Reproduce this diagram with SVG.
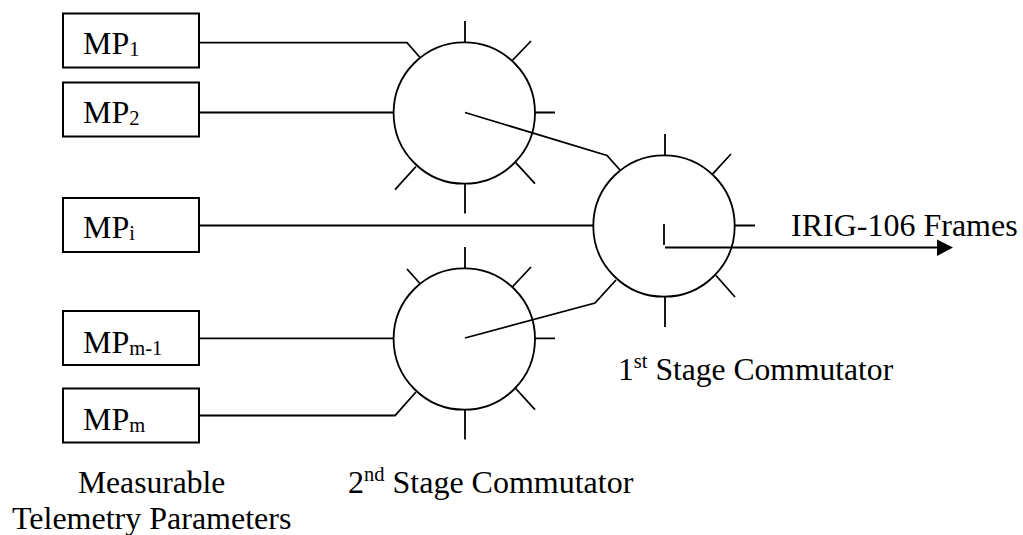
<svg xmlns="http://www.w3.org/2000/svg" width="1023" height="535" viewBox="0 0 1023 535">
<style>
text{font-family:"Liberation Serif","Times New Roman",serif;font-size:32px;fill:#000}
.s{font-size:20.5px}
.n{font-size:31.6px}
rect{fill:#fff;stroke:#000;stroke-width:2}
circle{fill:none;stroke:#000;stroke-width:1.8}
path,line,polyline{fill:none;stroke:#000;stroke-width:1.8}
.a{fill:#000;stroke:none}
</style>
<rect width="1023" height="535" style="stroke:none"/>
<g id="connectors">
<polyline points="199,42.7 407,42.7 420,57.5"/>
<line x1="199" y1="112.5" x2="393" y2="112.5"/>
<line x1="199" y1="225.5" x2="593" y2="225.5"/>
<line x1="199" y1="338.3" x2="393" y2="338.3"/>
<polyline points="199,415.5 395,415.5 416,392"/>
<polyline points="465,112.5 607,155.5 620,170"/>
<polyline points="465,338 595,303 616,280"/>
<line x1="665" y1="247.5" x2="938" y2="247.5"/>
<polygon class="a" points="937,239.5 953,247.5 937,256"/>
</g>
<g id="mp1"><rect x="63" y="13.5" width="136" height="54"/><text x="83" y="54">MP<tspan class="s" dy="2">1</tspan></text></g>
<g id="mp2"><rect x="63" y="82.5" width="136" height="54"/><text x="83" y="123">MP<tspan class="s" dy="2">2</tspan></text></g>
<g id="mpi"><rect x="63" y="198" width="136" height="54"/><text x="83" y="238">MP<tspan class="s" dy="2">i</tspan></text></g>
<g id="mpm1"><rect x="63" y="311" width="136" height="54"/><text x="83" y="352.5">MP<tspan class="s" dy="2">m-1</tspan></text></g>
<g id="mpm"><rect x="63" y="388.5" width="136" height="54"/><text x="83" y="430">MP<tspan class="s" dy="2">m</tspan></text></g>
<g id="stage2a">
<circle cx="464.3" cy="113" r="70.7"/>
<path d="M465,21V43M512.3,60.5L531,41M535,112.5H555M515.7,162.7L535,183.7M465,183.5V213.5M416,166.5L395,189.7"/>
</g>
<g id="stage2b">
<circle cx="464.3" cy="339" r="70.7"/>
<path d="M465,247V268.5M512.3,287L531,267M407,269L420,283.5M535,338.3H555M515.7,388.5L535,409.7M465,410V439.5"/>
</g>
<g id="stage1">
<circle cx="664" cy="226" r="70.7"/>
<path d="M665,134V155.5M712.3,174.3L731,154M735,225.5H755M716,275.5L735,297M665,297V327M664,224V245"/>
</g>
<g id="labels">
<text x="791" y="236">IRIG-106 Frames</text>
<text class="n" x="618" y="380">1<tspan class="s" dy="-12">st</tspan><tspan dy="12"> Stage Commutator</tspan></text>
<text x="348" y="493">2<tspan class="s" dy="-12">nd</tspan><tspan dy="12"> Stage Commutator</tspan></text>
<text class="n" x="78" y="492.5">Measurable</text>
<text x="12" y="528.5">Telemetry Parameters</text>
</g>
</svg>
